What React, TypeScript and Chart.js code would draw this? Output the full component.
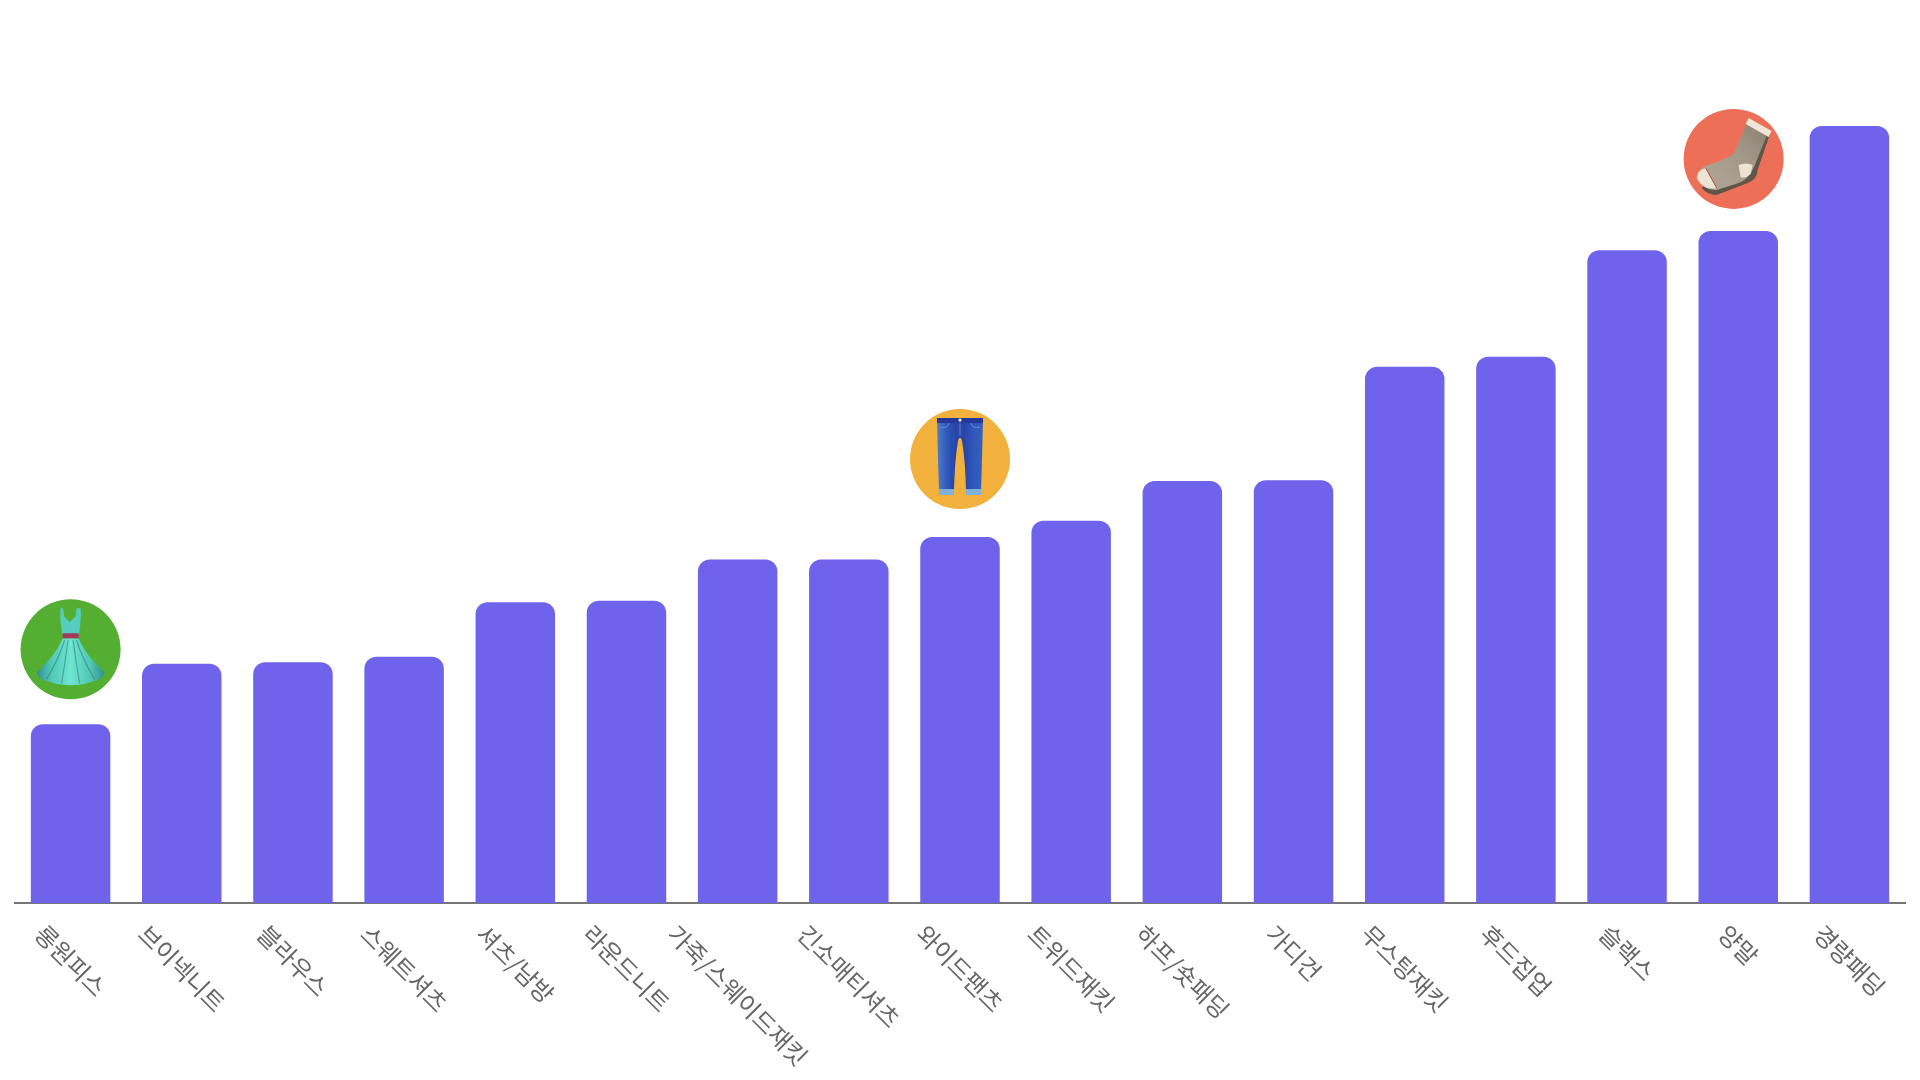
import React, { useEffect, useRef } from "react";
import { Chart, registerables } from "chart.js";

Chart.register(...registerables);

const categories = ["롱원피스", "브이넥니트", "블라우스", "스웨트셔츠", "셔츠/남방", "라운드니트", "가죽/스웨이드재킷", "긴소매티셔츠", "와이드팬츠", "트위드재킷", "하프/숏패딩", "가디건", "무스탕재킷", "후드집업", "슬랙스", "양말", "경량패딩"];
const values = [23.0, 30.8, 31.0, 31.7, 38.7, 38.9, 44.2, 44.2, 47.1, 49.2, 54.3, 54.4, 69.0, 70.3, 84.0, 86.5, 100];
const iconBars = [0, 8, 15];
const iconKinds = ["dress", "jeans", "sock"];
const iconColors = ["#54AE32", "#F2B13C", "#EE6F57"];
const iconRises = [75, 78, 72];
const iconShifts = [0, 0, -4.6];

const BAR = "#7063EB";
const FONT = '"Noto Sans CJK KR", sans-serif';

function poly(ctx: CanvasRenderingContext2D, pts: number[][]) {
  ctx.beginPath();
  pts.forEach((p, i) => (i ? ctx.lineTo(p[0], p[1]) : ctx.moveTo(p[0], p[1])));
  ctx.closePath();
}

function drawDress(ctx: CanvasRenderingContext2D) {
  // bodice with thin straps
  ctx.beginPath();
  ctx.moveTo(-10, -41);
  ctx.lineTo(-7.5, -41);
  ctx.lineTo(-6.5, -33);
  ctx.lineTo(-1, -27);
  ctx.lineTo(5, -33);
  ctx.lineTo(6, -41);
  ctx.lineTo(10, -41);
  ctx.quadraticCurveTo(11, -32, 8.5, -15);
  ctx.lineTo(-8.5, -15);
  ctx.quadraticCurveTo(-11, -32, -10, -41);
  ctx.closePath();
  ctx.fillStyle = "#55CDBE";
  ctx.fill();
  // skirt
  const g = ctx.createLinearGradient(-34, 0, 34, 0);
  g.addColorStop(0, "#338C8C");
  g.addColorStop(0.2, "#4FC6B6");
  g.addColorStop(0.5, "#6FE6D0");
  g.addColorStop(0.8, "#4FC6B6");
  g.addColorStop(1, "#338C8C");
  ctx.beginPath();
  ctx.moveTo(-8, -11);
  ctx.bezierCurveTo(-14, 4, -26, 16, -34, 23);
  ctx.lineTo(-31, 29);
  ctx.quadraticCurveTo(0, 43, 31, 29);
  ctx.lineTo(34, 23);
  ctx.bezierCurveTo(26, 16, 14, 4, 8, -11);
  ctx.closePath();
  ctx.fillStyle = g;
  ctx.fill();
  // folds
  ctx.strokeStyle = "rgba(40,120,125,0.55)";
  ctx.lineWidth = 1.2;
  [[-6, -24, 30], [-2.5, -9, 34], [2.5, 9, 34], [6, 24, 30]].forEach(([a, b, c]) => {
    ctx.beginPath();
    ctx.moveTo(a, -9);
    ctx.quadraticCurveTo(a * 2, 10, b, c);
    ctx.stroke();
  });
  // belt
  ctx.fillStyle = "#A3385A";
  ctx.fillRect(-8, -16, 16, 5);
}

function drawJeans(ctx: CanvasRenderingContext2D) {
  const g = ctx.createLinearGradient(-23, 0, 23, 0);
  g.addColorStop(0, "#4E7FCB");
  g.addColorStop(0.22, "#2F57BA");
  g.addColorStop(0.4, "#2846A8");
  g.addColorStop(0.6, "#2846A8");
  g.addColorStop(0.8, "#2F57BA");
  g.addColorStop(1, "#3463BD");
  ctx.beginPath();
  ctx.moveTo(-23, -41);
  ctx.lineTo(23, -41);
  ctx.lineTo(22, 0);
  ctx.lineTo(21, 32);
  ctx.lineTo(6, 32);
  ctx.quadraticCurveTo(5, -4, 1.5, -20);
  ctx.quadraticCurveTo(0, -22, -1.5, -20);
  ctx.quadraticCurveTo(-5, -4, -6, 32);
  ctx.lineTo(-21, 32);
  ctx.lineTo(-22, 0);
  ctx.closePath();
  ctx.fillStyle = g;
  ctx.fill();
  ctx.fillStyle = "#24389A";
  ctx.fillRect(-23, -41, 46, 5);
  // pockets
  ctx.strokeStyle = "#7A93D6";
  ctx.lineWidth = 0.8;
  ctx.beginPath();
  ctx.moveTo(-20, -32);
  ctx.quadraticCurveTo(-12, -30, -11, -36);
  ctx.moveTo(20, -32);
  ctx.quadraticCurveTo(12, -30, 11, -36);
  ctx.moveTo(0, -36);
  ctx.lineTo(0, -24);
  ctx.stroke();
  ctx.fillStyle = "#E8EEF4";
  ctx.beginPath();
  ctx.arc(0, -39, 1.6, 0, Math.PI * 2);
  ctx.fill();
  ctx.fillStyle = "#7FB2DA";
  ctx.fillRect(-21, 30, 15, 6);
  ctx.fillRect(6, 30, 15, 6);
}

function drawSock(ctx: CanvasRenderingContext2D) {
  const g = ctx.createLinearGradient(-30, 30, 30, -30);
  g.addColorStop(0, "#B2A796");
  g.addColorStop(0.6, "#A3978A");
  g.addColorStop(1, "#8F8474");
  // dark underside first
  ctx.beginPath();
  ctx.moveTo(37, -27);
  ctx.lineTo(24, 11);
  ctx.quadraticCurveTo(24, 20, 14, 24);
  ctx.lineTo(-17, 36);
  ctx.quadraticCurveTo(-26, 36, -32, 29);
  ctx.lineTo(0, 0);
  ctx.closePath();
  ctx.fillStyle = "#5F5648";
  ctx.fill();
  // main sock
  ctx.beginPath();
  ctx.moveTo(15, -40);
  ctx.lineTo(35, -28);
  ctx.lineTo(20, 9);
  ctx.quadraticCurveTo(14, 22, 2, 25);
  ctx.lineTo(-17, 31);
  ctx.quadraticCurveTo(-30, 32, -36, 19);
  ctx.quadraticCurveTo(-36, 10, -28, 7);
  ctx.quadraticCurveTo(-12, 2, 0, -5);
  ctx.closePath();
  ctx.fillStyle = g;
  ctx.fill();
  // cuff
  poly(ctx, [[15, -41], [38, -28], [35, -22], [12, -35]]);
  ctx.fillStyle = "#EFE6D6";
  ctx.fill();
  // toe
  ctx.beginPath();
  ctx.moveTo(-28, 9);
  ctx.lineTo(-17, 29);
  ctx.quadraticCurveTo(-30, 32, -37, 19);
  ctx.quadraticCurveTo(-36, 11, -28, 9);
  ctx.closePath();
  ctx.fillStyle = "#EDE4D4";
  ctx.fill();
  ctx.strokeStyle = "#B04A3C";
  ctx.lineWidth = 1;
  ctx.beginPath();
  ctx.moveTo(-28, 9);
  ctx.lineTo(-17, 29);
  ctx.stroke();
  // heel
  ctx.beginPath();
  ctx.moveTo(5, 6);
  ctx.quadraticCurveTo(12, 3, 19, 6);
  ctx.lineTo(17, 15);
  ctx.quadraticCurveTo(12, 20, 7, 18);
  ctx.closePath();
  ctx.fillStyle = "#EDE4D4";
  ctx.fill();
}

const painters: Record<string, (c: CanvasRenderingContext2D) => void> = {
  dress: drawDress,
  jeans: drawJeans,
  sock: drawSock,
};

const rotatedLabels = {
  id: "rotatedLabels",
  beforeDraw(chart: any) {
    const scale = chart.scales.x;
    const ctx = chart.ctx;
    const angle = Math.PI / 4;
    const top = 921;
    ctx.save();
    scale.getLabelItems().forEach((item: any, i: number) => {
      ctx.font = item.font.string;
      const w = ctx.measureText(item.label).width;
      const half = ((w + item.font.size) / 2) * Math.SQRT1_2;
      item.textOffset = 0;
      item.options.rotation = angle;
      item.options.textAlign = "center";
      item.options.textBaseline = "middle";
      item.options.translation = [scale.getPixelForTick(i), top + half];
    });
    ctx.restore();
  },
};

const badges = {
  id: "badges",
  afterDraw(chart: any) {
    const ctx = chart.ctx;
    const y = chart.scales.y;
    const x = chart.scales.x;
    iconBars.forEach((bar, i) => {
      const cx = x.getPixelForValue(bar) + iconShifts[i];
      const cy = y.getPixelForValue(values[bar]) - iconRises[i];
      ctx.save();
      ctx.translate(cx, cy);
      ctx.beginPath();
      ctx.arc(0, 0, 50, 0, Math.PI * 2);
      ctx.fillStyle = iconColors[i];
      ctx.fill();
      painters[iconKinds[i]](ctx);
      ctx.restore();
    });
  },
};

export default function App() {
  const ref = useRef<HTMLCanvasElement>(null);
  useEffect(() => {
    document.body.style.margin = "0";
    const chart = new Chart(ref.current!, {
      type: "bar",
      data: {
        labels: categories,
        datasets: [
          {
            data: values,
            backgroundColor: BAR,
            barPercentage: 0.715,
            categoryPercentage: 1,
            borderRadius: { topLeft: 12, topRight: 12, bottomLeft: 0, bottomRight: 0 },
            borderSkipped: false,
          },
        ],
      },
      options: {
        responsive: false,
        animation: false,
        layout: { padding: { left: 15, right: 15, top: 126, bottom: 0 } },
        plugins: { legend: { display: false }, title: { display: false }, tooltip: { enabled: false } },
        scales: {
          x: {
            grid: { display: false, drawTicks: false },
            border: { display: true, color: "#757575", width: 2 },
            ticks: {
              autoSkip: false,
              minRotation: -45,
              maxRotation: -45,
              color: "#666666",
              font: { family: FONT, size: 24, weight: "400" },
            },
            afterFit(s: any) {
              s.height = 177;
              s.paddingLeft = 0;
              s.paddingRight = 0;
            },
          },
          y: { display: false, min: 0, max: 100 },
        },
      },
      plugins: [rotatedLabels, badges],
    } as any);
    return () => chart.destroy();
  }, []);
  return (
    <div style={{ width: 1920, height: 1080, background: "#ffffff" }}>
      <canvas ref={ref} width={1920} height={1080} style={{ display: "block" }} />
    </div>
  );
}
